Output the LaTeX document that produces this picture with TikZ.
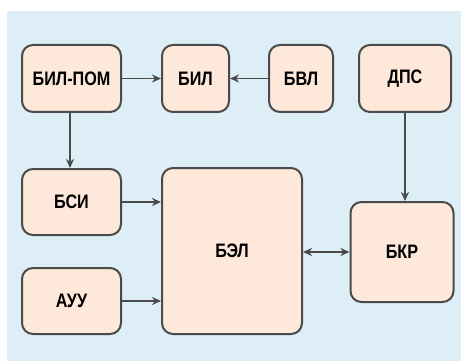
\documentclass[tikz,border=0pt]{standalone}
\usepackage{fontspec}
\setmainfont{Liberation Sans}[FakeStretch=0.83]
\usepackage{xcolor}
\usetikzlibrary{arrows.meta, positioning}
\definecolor{fon}{HTML}{DDEEF6}
\definecolor{blokfill}{HTML}{FDE8DA}
\definecolor{rama}{HTML}{4A4A4A}

\begin{document}
\begin{tikzpicture}[x=1pt, y=-1pt,
    blok/.style={draw=rama, line width=2pt, fill=blokfill, rounded corners=11pt,
                 inner sep=0pt, font=\fontsize{19.5}{19.5}\selectfont\bfseries},
    pil/.style={draw=rama, line width=1.8pt, -{Stealth[length=9pt, width=8pt]}}]
    % background
    \fill[white] (0,0) rectangle (461,361);
    \fill[fon] (7,11) rectangle (461,361);
    \useasboundingbox (0,0) rectangle (461,361);

    \node[blok, minimum width=99pt, minimum height=67pt] (bilpom) at (71.5, 78.5) {БИЛ-ПОМ};
    \node[blok, minimum width=67pt, minimum height=67pt] (bil) at (195.5, 78.5) {БИЛ};
    \node[blok, minimum width=64pt, minimum height=67pt] (bvl) at (301, 78.5) {БВЛ};
    \node[blok, minimum width=92pt, minimum height=67pt] (dps) at (405, 78.5) {ДПС};
    \node[blok, minimum width=99pt, minimum height=66pt] (bsi) at (71.5, 202) {БСИ};
    \node[blok, minimum width=99pt, minimum height=66pt] (auu) at (71.5, 301) {АУУ};
    \node[blok, minimum width=140pt, minimum height=166pt] (bel) at (232, 251) {БЭЛ};
    \node[blok, minimum width=103pt, minimum height=100pt] (bkr) at (402, 252) {БКР};

    \draw[pil] (bilpom) -- (bil);
    \draw[pil] (bvl) -- (bil);
    \draw[pil] ([xshift=-1.5pt]bilpom.south) -- ([xshift=-1.5pt]bilpom.south |- bsi.north);
    \draw[pil] (dps.south) -- (dps.south |- bkr.north);
    \draw[pil] (bsi.east) -- (bsi.east -| bel.west);
    \draw[pil] (auu.east) -- (auu.east -| bel.west);
    \draw[pil, {Stealth[length=9pt, width=8pt]}-{Stealth[length=9pt, width=8pt]}] (bkr.west -| bel.east) -- (bkr.west);
\end{tikzpicture}
\end{document}
